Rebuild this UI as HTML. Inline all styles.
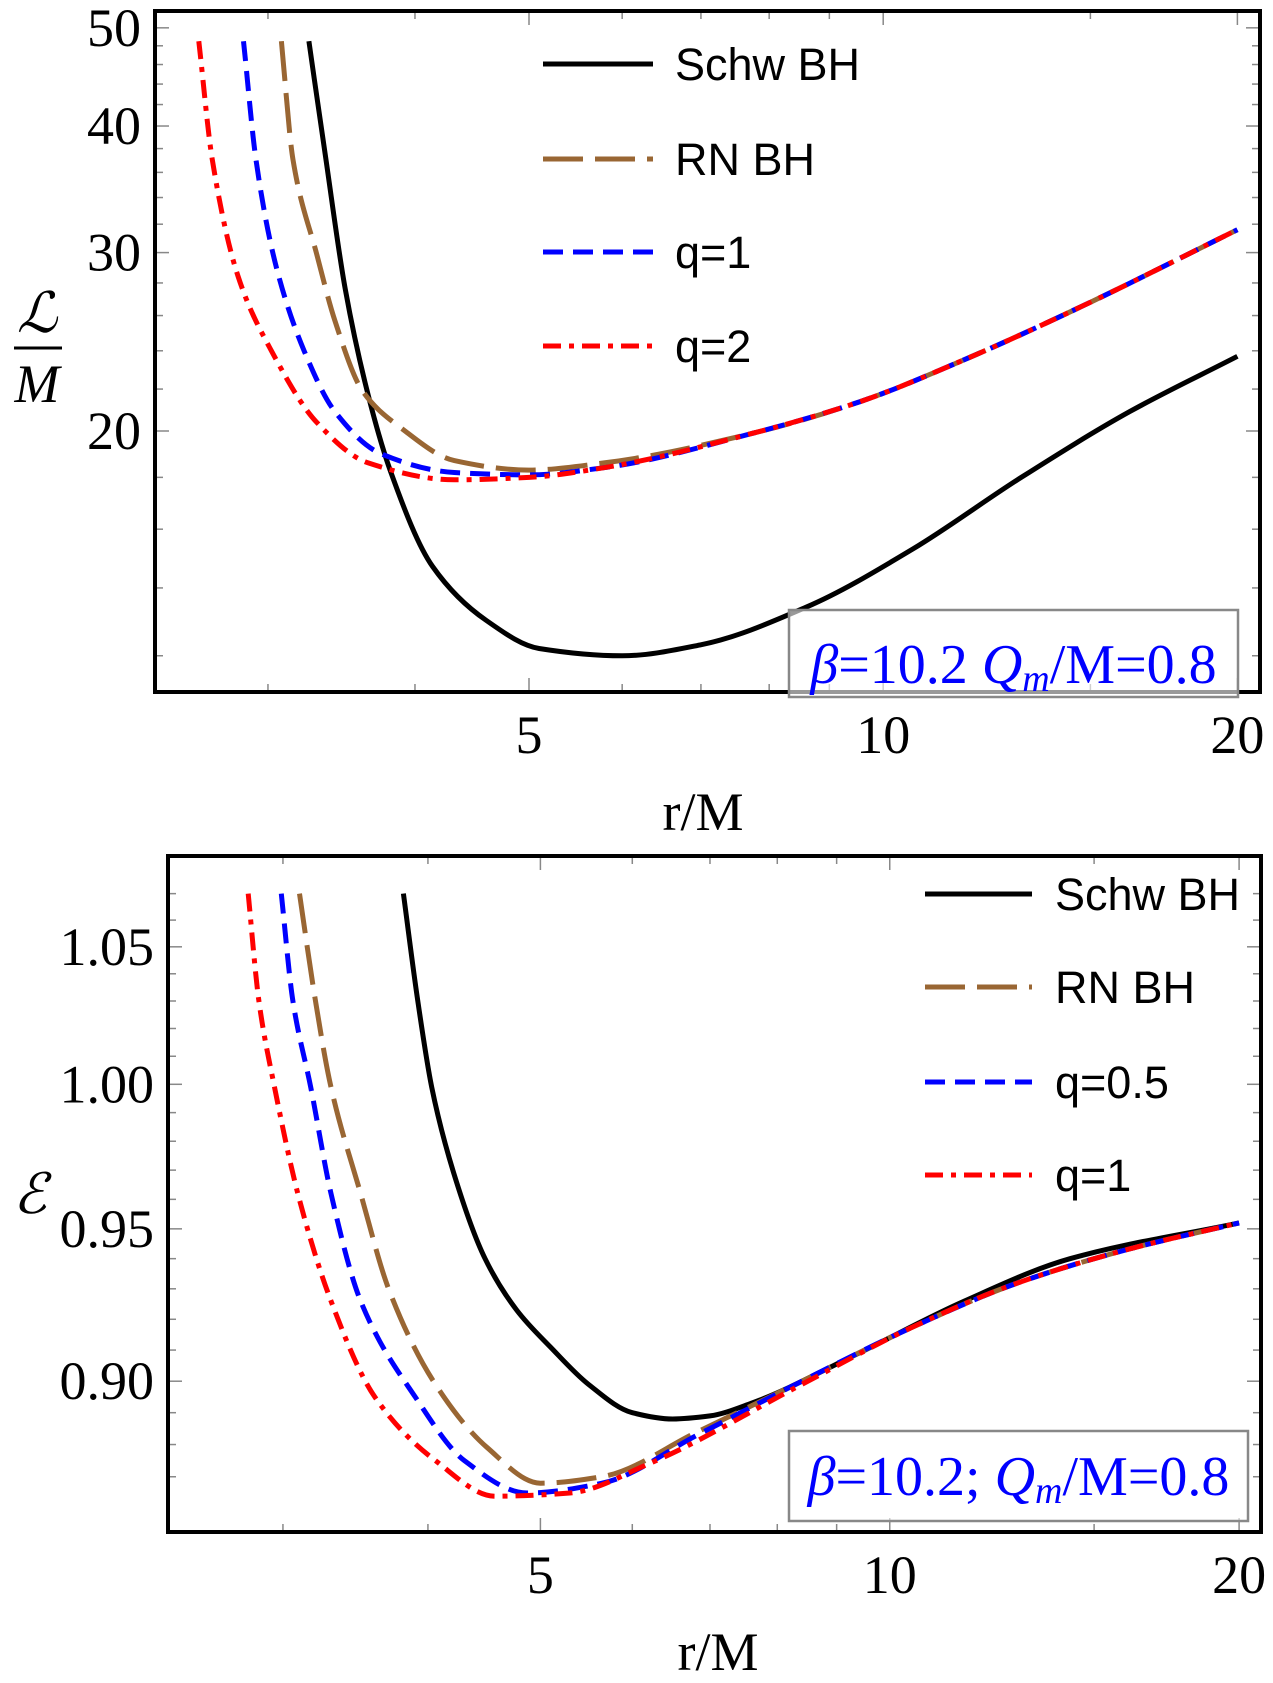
<!DOCTYPE html>
<html><head><meta charset="utf-8"><style>
html,body{margin:0;padding:0;background:#fff}
svg{display:block}
text{font-family:"Liberation Serif",serif}
.leg{font-family:"Liberation Sans",sans-serif;font-size:45px}
</style></head><body>
<svg id="chart" width="1273" height="1683" viewBox="0 0 1273 1683" xmlns="http://www.w3.org/2000/svg">
<g id="top"></g>
<g id="bot"></g>
</svg>
<script>
// ---- Top panel data (L/M vs r/M) ----
const topXTicks = [5, 10, 20];
const topYTicks = [20, 30, 40, 50];
const topSchwR = [3.25,3.36,3.49,3.65,3.81,4.14,4.6,5.1,6.0,6.99,8.6,10.6,13.1,16.2,20];
const topSchwL = [48.5,37.1,27.6,21.7,18.3,14.7,13.0,12.2,12.0,12.3,13.4,15.3,18.0,20.9,23.7];
const topRNR = [3.08,3.15,3.3,3.42,3.61,3.89,4.32,5.0,5.79,7.75,9.58,11.8,14.6,20];
const topRNL = [48.5,37.1,29.9,25.7,21.9,20.15,18.7,18.3,18.6,19.9,21.4,23.6,26.4,31.6];
const topQ1R = [2.86,2.93,3.05,3.22,3.42,3.74,4.32,5.0,5.79,7.75,9.58,11.8,14.6,20];
const topQ1L = [48.5,37.1,29.0,24.0,20.9,19.0,18.2,18.1,18.4,19.9,21.4,23.6,26.4,31.6];
const topQ2R = [2.62,2.69,2.83,3.02,3.3,3.65,4.32,5.0,5.79,7.75,9.58,11.8,14.6,20];
const topQ2L = [48.5,37.1,28.4,24.0,20.4,18.6,17.9,18.0,18.4,19.9,21.4,23.6,26.4,31.6];
// ---- Bottom panel data (E vs r/M) ----
const botXTicks = [5, 10, 20];
const botYTicks = [0.90, 0.95, 1.00, 1.05];
const botYLabels = ["0.90", "0.95", "1.00", "1.05"];
const botSchwR = [3.81,3.92,4.03,4.21,4.48,4.77,5.1,5.5,6.0,6.5,7.0,7.6,9.4,11.6,14.3,20];
const botSchwE = [1.070,1.030,0.999,0.969,0.940,0.923,0.911,0.899,0.890,0.888,0.889,0.893,0.909,0.926,0.940,0.952];
const botRNR = [3.1,3.2,3.3,3.5,3.7,4.06,4.5,5.0,5.65,6.83,8.4,10.4,12.9,16,20];
const botRNE = [1.070,1.030,0.999,0.962,0.930,0.899,0.879,0.868,0.870,0.884,0.900,0.917,0.932,0.943,0.952];
const botQ05R = [2.99,3.06,3.17,3.3,3.5,3.9,4.3,4.87,5.65,6.83,8.4,10.4,12.9,16,20];
const botQ05E = [1.070,1.030,0.999,0.962,0.926,0.895,0.875,0.865,0.868,0.883,0.900,0.917,0.932,0.943,0.952];
const botQ1R = [2.80,2.86,2.95,3.09,3.3,3.6,4.06,4.57,5.3,6.2,8.4,10.4,12.9,16,20];
const botQ1E = [1.070,1.030,0.999,0.962,0.926,0.895,0.875,0.864,0.865,0.874,0.899,0.917,0.932,0.943,0.952];

const NS = "http://www.w3.org/2000/svg";
function mk(parent, tag, attrs, txt){
  const e = document.createElementNS(NS, tag);
  for (const k in attrs) e.setAttribute(k, attrs[k]);
  if (txt !== undefined) e.textContent = txt;
  parent.appendChild(e); return e;
}
// monotone cubic interpolation (Fritsch-Carlson) in screen space, y as function of x
function monoPath(pts){
  const n=pts.length, xs=pts.map(p=>p[0]), ys=pts.map(p=>p[1]);
  const d=[], m=[];
  for(let i=0;i<n-1;i++) d.push((ys[i+1]-ys[i])/(xs[i+1]-xs[i]));
  m[0]=d[0]; m[n-1]=d[n-2];
  for(let i=1;i<n-1;i++){
    if(d[i-1]*d[i]<=0) m[i]=0;
    else { const w1=2*(xs[i+1]-xs[i])+(xs[i]-xs[i-1]), w2=(xs[i+1]-xs[i])+2*(xs[i]-xs[i-1]);
      m[i]=(w1+w2)/(w1/d[i-1]+w2/d[i]); }
  }
  let s="M"+xs[0].toFixed(1)+","+ys[0].toFixed(1);
  for(let i=0;i<n-1;i++){
    const h=xs[i+1]-xs[i];
    s+=" C"+(xs[i]+h/3).toFixed(1)+","+(ys[i]+m[i]*h/3).toFixed(1)+" "+(xs[i+1]-h/3).toFixed(1)+","+(ys[i+1]-m[i+1]*h/3).toFixed(1)+" "+xs[i+1].toFixed(1)+","+ys[i+1].toFixed(1);
  }
  return s;
}
const styles = {
  schw:{stroke:"#000", dash:""},
  rn:{stroke:"#996633", dash:"40 12"},
  q1:{stroke:"#0000ff", dash:"20 10"},
  q2:{stroke:"#ff0000", dash:"18 8 5 8"}
};

function panel(g, o){
  const X = r => o.x0 + o.kx*Math.log(r/5);
  const Y = v => o.y0 - o.ky*Math.log(v/o.yref);
  o.xMinor.forEach(r=>{
    const x=X(r);
    const t1=mk(g,"line",{x1:x,y1:o.B,x2:x,y2:o.B-8,stroke:"#888","stroke-width":1.5});
    
    
    mk(g,"line",{x1:x,y1:o.T,x2:x,y2:o.T+8,stroke:"#888","stroke-width":1.5});
  });
  o.yMinor.forEach(v=>{
    const y=Y(v);
    mk(g,"line",{x1:o.L,y1:y,x2:o.L+8,y2:y,stroke:"#888","stroke-width":1.5});
    mk(g,"line",{x1:o.R,y1:y,x2:o.R-8,y2:y,stroke:"#888","stroke-width":1.5});
  });
  o.xTicks.forEach(r=>{
    const x=X(r);
    mk(g,"line",{x1:x,y1:o.B,x2:x,y2:o.B-14,stroke:"#888","stroke-width":1.5});
    mk(g,"line",{x1:x,y1:o.T,x2:x,y2:o.T+14,stroke:"#888","stroke-width":1.5});
    const t=mk(g,"text",{x:x,y:o.xLabY,"font-size":54,"text-anchor":"middle"},String(r));
    
    
  });
  o.yTicks.forEach((v,i)=>{
    const y=Y(v);
    mk(g,"line",{x1:o.L,y1:y,x2:o.L+14,y2:y,stroke:"#888","stroke-width":1.5});
    mk(g,"line",{x1:o.R,y1:y,x2:o.R-14,y2:y,stroke:"#888","stroke-width":1.5});
    const t=mk(g,"text",{x:o.L-14,y:y+18,"font-size":54,"text-anchor":"end"},o.yLabels[i]);
    
    
  });
  o.series.forEach(s=>{
    const pts=s.r.map((r,i)=>[X(r),Y(s.v[i])]);
    const st=styles[s.key];
    const p=mk(g,"path",{d:monoPath(pts),fill:"none",stroke:st.stroke,"stroke-width":5,"stroke-dasharray":st.dash});
    
    
  });
  const f=mk(g,"rect",{x:o.L,y:o.T,width:o.R-o.L,height:o.B-o.T,fill:"none",stroke:"#000","stroke-width":4});
  
  
  o.legend.forEach((e,i)=>{
    const st=styles[e.key];
    const lg=mk(g,"g",{});
    
    
    mk(lg,"line",{x1:o.legX1,y1:o.legY[i],x2:o.legX2,y2:o.legY[i],stroke:st.stroke,"stroke-width":5,"stroke-dasharray":st.dash});
    mk(lg,"text",{x:o.legTX,y:o.legY[i]+16,class:"leg"},e.label);
  });
  const ab=mk(g,"rect",{x:o.box[0],y:o.box[1],width:o.box[2],height:o.box[3],fill:"#fff","fill-opacity":0.6,stroke:"#888","stroke-width":2.5});
  
  
  const at=mk(g,"text",{x:o.box[0]+o.box[2]/2,y:o.boxTY,"font-size":56,fill:"#0000ff","text-anchor":"middle"});
  
  
  at.innerHTML='<tspan font-style="italic">β</tspan>=10.2'+o.sep+' <tspan font-style="italic">Q</tspan><tspan font-style="italic" font-size="38" dy="8">m</tspan><tspan dy="-8">/M=0.8</tspan>';
  const xt=mk(g,"text",{x:o.xTitleX,y:o.xTitleY,"font-size":54,"text-anchor":"middle"},"r/M");
  
  
}

const range=(a,b,s)=>{const o=[];for(let v=a;v<=b+1e-9;v+=s)o.push(+v.toFixed(4));return o;};

panel(document.getElementById("top"),{
  L:155,T:11,R:1260,B:692,x0:529,kx:511,y0:431,ky:440,yref:20,
  xTicks:topXTicks,xMinor:[3,4,6,7,8,9,15],
  yTicks:topYTicks,yLabels:topYTicks.map(String),
  yMinor:range(12,48,2).filter(v=>v%10!==0),
  xLabY:753,
  series:[
    {key:"schw",name:"schw-bh-curve",r:topSchwR,v:topSchwL},
    {key:"rn",name:"rn-bh-curve",r:topRNR,v:topRNL},
    {key:"q1",name:"q1-curve",r:topQ1R,v:topQ1L},
    {key:"q2",name:"q2-curve",r:topQ2R,v:topQ2L}],
  legend:[{key:"schw",label:"Schw BH"},{key:"rn",label:"RN BH"},{key:"q1",label:"q=1"},{key:"q2",label:"q=2"}],
  legX1:543,legX2:653,legTX:675,legY:[64,159,252,346],
  box:[789,610,449,87],boxTY:683,sep:"",
  xTitleX:703,xTitleY:830
});
panel(document.getElementById("bot"),{
  L:168,T:856,R:1261,B:1532,x0:540.4,kx:504,y0:1084.3,ky:2818,yref:1,
  xTicks:botXTicks,xMinor:[3,4,6,7,8,9,15],
  yTicks:botYTicks,yLabels:botYLabels,
  yMinor:range(0.87,1.07,0.01).filter(v=>Math.round(v*100)%5!==0),
  xLabY:1593,
  series:[
    {key:"schw",name:"schw-bh-curve",r:botSchwR,v:botSchwE},
    {key:"rn",name:"rn-bh-curve",r:botRNR,v:botRNE},
    {key:"q1",name:"q05-curve",r:botQ05R,v:botQ05E},
    {key:"q2",name:"q1-curve",r:botQ1R,v:botQ1E}],
  legend:[{key:"schw",label:"Schw BH"},{key:"rn",label:"RN BH"},{key:"q1",label:"q=0.5"},{key:"q2",label:"q=1"}],
  legX1:925,legX2:1032,legTX:1055,legY:[894,987,1082,1175],
  box:[789,1431,459,90],boxTY:1495,sep:";",
  xTitleX:718,xTitleY:1670
});

const svg=document.getElementById("chart");
const yt=mk(svg,"g",{});


mk(yt,"text",{x:37,y:332,"font-size":56,"font-style":"italic","text-anchor":"middle"},"ℒ");
mk(yt,"line",{x1:14,y1:348,x2:62,y2:348,stroke:"#000","stroke-width":3});
mk(yt,"text",{x:37,y:402,"font-size":54,"font-style":"italic","text-anchor":"middle"},"M");
const yb=mk(svg,"text",{x:30,y:1213,"font-size":56,"font-style":"italic","text-anchor":"middle"},"ℰ");


</script>
</body></html>
